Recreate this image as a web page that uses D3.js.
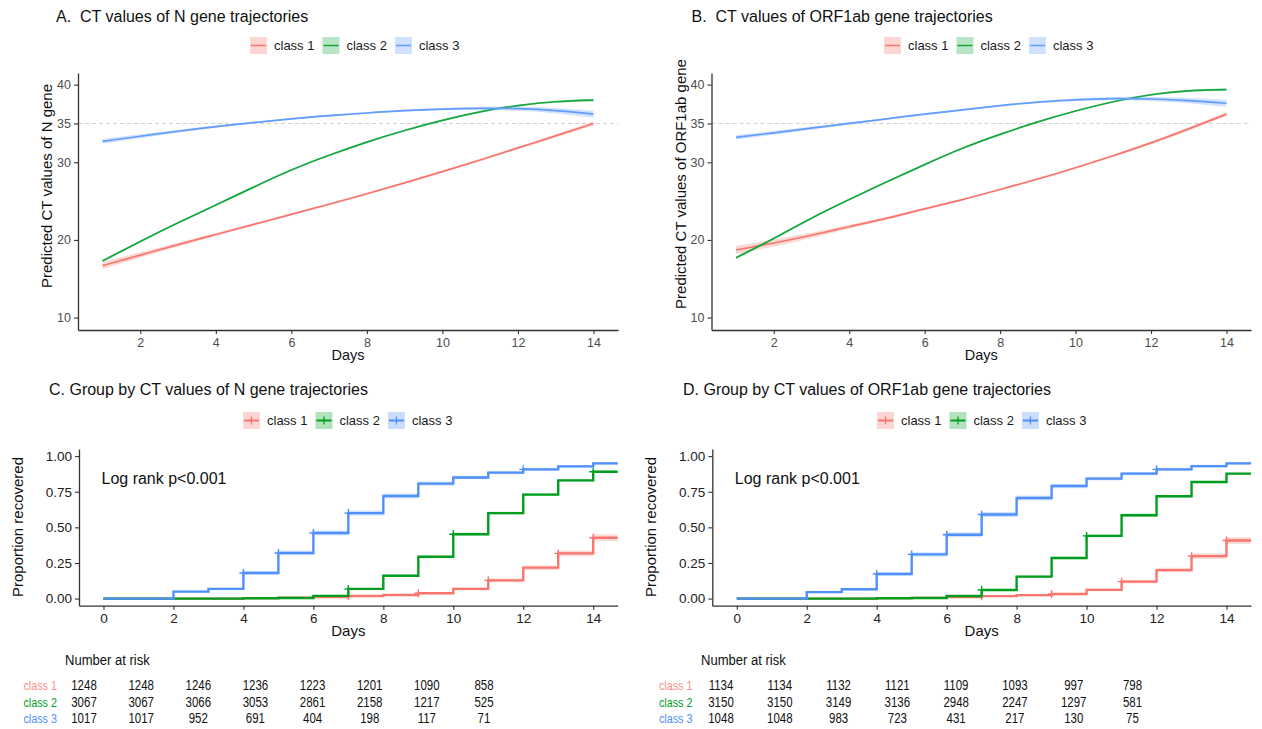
<!DOCTYPE html>
<html><head><meta charset="utf-8">
<script src="https://cdn.jsdelivr.net/npm/d3@7"></script>
<style>body{margin:0;background:#fff} svg text{font-family:"Liberation Sans",Arial,sans-serif}</style>
</head><body>
<svg id="c" width="1262" height="729"></svg>
<script>
// ---------- DATA ----------
const classNames = ["class 1", "class 2", "class 3"];
const trajDays = [1,2,3,4,5,6,7,8,9,10,11,12,13,14];
const yTicksTraj = [10,20,30,35,40];
const xTicksTraj = [2,4,6,8,10,12,14];
const refLine = 35;

// Panel A: N gene predicted CT
const nGene1 = [16.7,18.05,19.4,20.7,22.0,23.3,24.6,25.95,27.35,28.8,30.3,31.85,33.4,35.0];
const nGene2 = [17.3,19.8,22.2,24.5,26.8,29.0,30.9,32.6,34.1,35.4,36.5,37.3,37.8,38.0];
const nGene3 = [32.7,33.35,34.0,34.6,35.1,35.6,36.0,36.35,36.65,36.85,36.95,36.9,36.65,36.2];
const nGeneCI1 = [0.45,0.35,0.25,0.2,0.15,0.12,0.12,0.12,0.12,0.13,0.15,0.17,0.2,0.25];
const nGeneCI2 = [0.18,0.14,0.12,0.1,0.1,0.1,0.1,0.1,0.1,0.1,0.1,0.12,0.14,0.18];
const nGeneCI3 = [0.3,0.25,0.2,0.15,0.12,0.12,0.12,0.12,0.12,0.15,0.2,0.27,0.35,0.45];

// Panel B: ORF1ab gene predicted CT
const orf1 = [18.7,19.6,20.6,21.7,22.8,24.0,25.2,26.5,27.85,29.3,30.85,32.5,34.3,36.2];
const orf2 = [17.7,20.2,22.8,25.2,27.5,29.7,31.8,33.6,35.2,36.6,37.8,38.7,39.2,39.35];
const orf3 = [33.2,33.8,34.4,35.0,35.6,36.2,36.75,37.3,37.75,38.05,38.2,38.15,37.95,37.6];
const orfCI1 = [0.55,0.45,0.35,0.25,0.2,0.15,0.12,0.12,0.12,0.13,0.15,0.17,0.2,0.25];
const orfCI2 = [0.18,0.14,0.12,0.1,0.1,0.1,0.1,0.1,0.1,0.1,0.1,0.12,0.14,0.18];
const orfCI3 = [0.3,0.25,0.2,0.15,0.12,0.12,0.12,0.12,0.12,0.15,0.2,0.27,0.35,0.45];

// Kaplan-Meier (proportion recovered) at days 0..14
const kmTimes = [0,1,2,3,4,5,6,7,8,9,10,11,12,13,14];
const kmTicksX = [0,2,4,6,8,10,12,14];
const kmTicksY = [0,0.25,0.5,0.75,1];
const kmN1 = [0,0,0,0,0.003,0.006,0.01,0.018,0.025,0.037,0.068,0.128,0.217,0.317,0.427];
const kmN2 = [0,0,0,0,0.002,0.004,0.019,0.068,0.16,0.294,0.452,0.60,0.73,0.83,0.89];
const kmN3 = [0,0,0.049,0.068,0.18,0.32,0.46,0.60,0.72,0.807,0.85,0.884,0.907,0.928,0.949];
const kmNCI1 = [0,0,0,0,0.003,0.004,0.005,0.006,0.007,0.008,0.01,0.013,0.016,0.02,0.024];
const kmNCI2 = [0,0,0,0,0.002,0.002,0.004,0.006,0.008,0.009,0.01,0.01,0.009,0.008,0.007];
const kmNCI3 = [0,0,0.007,0.008,0.013,0.016,0.018,0.018,0.017,0.015,0.013,0.012,0.011,0.01,0.009];
const censN1 = [7,9,11,13,14];
const censN2 = [7,10,14];
const censN3 = [4,5,6,7,12];

const kmO1 = [0,0,0,0,0.003,0.005,0.01,0.017,0.024,0.032,0.061,0.119,0.20,0.298,0.408];
const kmO2 = [0,0,0,0,0.002,0.004,0.018,0.06,0.154,0.285,0.44,0.585,0.718,0.818,0.877];
const kmO3 = [0,0,0.045,0.065,0.173,0.31,0.448,0.59,0.706,0.79,0.842,0.877,0.907,0.93,0.949];
const kmOCI1 = [0,0,0,0,0.003,0.004,0.005,0.006,0.007,0.008,0.01,0.013,0.016,0.02,0.024];
const kmOCI2 = [0,0,0,0,0.002,0.002,0.004,0.006,0.008,0.009,0.01,0.01,0.009,0.008,0.007];
const kmOCI3 = [0,0,0.007,0.008,0.013,0.016,0.018,0.018,0.017,0.015,0.013,0.012,0.011,0.01,0.009];
const censO1 = [7,9,11,13,14];
const censO2 = [7,10];
const censO3 = [4,5,6,7,12];

// Numbers at risk
const riskTimes = [0,2,4,6,8,10,12,14];
const riskN1 = [1248,1248,1246,1236,1223,1201,1090,858];
const riskN2 = [3067,3067,3066,3053,2861,2158,1217,525];
const riskN3 = [1017,1017,952,691,404,198,117,71];
const riskO1 = [1134,1134,1132,1121,1109,1093,997,798];
const riskO2 = [3150,3150,3149,3136,2948,2247,1297,581];
const riskO3 = [1048,1048,983,723,431,217,130,75];

// ---------- STYLE ----------
const colTraj = ["#F8766D", "#14A83E", "#619CFF"];
const colKM = ["#F8766D", "#009E1F", "#4F90FA"];

const svg = d3.select("#c");

function legend(g, x0, yTop, cols, plus) {
  let x = x0;
  classNames.forEach((nm, i) => {
    g.append("rect").attr("x", x).attr("y", yTop).attr("width", 17).attr("height", 17)
      .attr("fill", cols[i]).attr("fill-opacity", 0.3);
    g.append("line").attr("x1", x + 1).attr("x2", x + 16).attr("y1", yTop + 8.5).attr("y2", yTop + 8.5)
      .attr("stroke", cols[i]).attr("stroke-width", plus ? 2 : 1.5);
    if (plus) g.append("line").attr("x1", x + 8.5).attr("x2", x + 8.5).attr("y1", yTop + 4.5).attr("y2", yTop + 12.5)
      .attr("stroke", cols[i]).attr("stroke-width", 1.3);
    const t = g.append("text").attr("x", x + 24).attr("y", yTop + 13).attr("font-size", 13).attr("fill", "#1a1a1a").text(nm);
    x = x + 24 + t.node().getComputedTextLength() + 8;
  });
}

function styleAxis(a, col, fs) {
  a.select(".domain").attr("stroke", "#333").attr("stroke-width", 1.3);
  a.selectAll(".tick line").attr("stroke", "#333").attr("stroke-width", 1.1);
  a.selectAll(".tick text").attr("fill", col).attr("font-size", fs)
    .attr("font-family", "Liberation Sans, Arial, sans-serif");
}

function drawTraj(o) {
  const g = svg.append("g");
  const x = d3.scaleLinear().domain([0.35, 14.65]).range([o.left, o.right]);
  const y = d3.scaleLinear().domain([8.4, 41.5]).range([330, 73]);
  g.append("line").attr("x1", o.left).attr("x2", o.right).attr("y1", y(refLine)).attr("y2", y(refLine))
    .attr("stroke", "#cfcfcf").attr("stroke-dasharray", "4,3").attr("stroke-width", 1);
  o.series.forEach((vals, i) => {
    const pts = trajDays.map((d, k) => ({d, v: vals[k], c: o.ci[i][k]}));
    g.append("path").datum(pts).attr("fill", colTraj[i]).attr("fill-opacity", 0.28)
      .attr("d", d3.area().curve(d3.curveNatural).x(p => x(p.d)).y0(p => y(p.v - p.c)).y1(p => y(p.v + p.c)));
    g.append("path").datum(pts).attr("fill", "none").attr("stroke", colTraj[i]).attr("stroke-width", 1.7)
      .attr("d", d3.line().curve(d3.curveNatural).x(p => x(p.d)).y(p => y(p.v)));
  });
  const ay = g.append("g").attr("transform", `translate(${o.left},0)`)
    .call(d3.axisLeft(y).tickValues(yTicksTraj).tickSize(4).tickSizeOuter(0).tickPadding(3));
  styleAxis(ay, "#4d4d4d", 12.5);
  const ax = g.append("g").attr("transform", `translate(0,330)`)
    .call(d3.axisBottom(x).tickValues(xTicksTraj).tickSize(4).tickSizeOuter(0).tickPadding(4));
  styleAxis(ax, "#4d4d4d", 12.5);
  g.append("text").attr("x", o.titleX).attr("y", 22).attr("font-size", 16).attr("fill", "#111").attr("xml:space","preserve").text(o.title);
  g.append("text").attr("x", (o.left + o.right) / 2).attr("y", 360).attr("text-anchor", "middle")
    .attr("font-size", 14.5).attr("fill", "#111").text("Days");
  g.append("text").attr("transform", `translate(${o.ytX},${o.ytY}) rotate(-90)`).attr("text-anchor", "middle")
    .attr("font-size", 15).attr("fill", "#111").text(o.ylab);
  legend(g, o.legX, 37, colTraj, false);
}

function plusPath(px, py) {
  return `M${px - 4},${py}H${px + 4}M${px},${py - 4}V${py + 4}`;
}

function drawKM(o) {
  const g = svg.append("g");
  const x = d3.scaleLinear().domain([-0.7, 14.7]).range([o.left, o.right]);
  const y = d3.scaleLinear().domain([-0.05, 1.05]).range([605.7, 449]);
  const tEnd = 14.7;
  o.series.forEach((vals, i) => {
    const pts = kmTimes.map((t, k) => ({t, v: vals[k], c: o.ci[i][k]}));
    pts.push({t: tEnd, v: vals[vals.length - 1], c: o.ci[i][vals.length - 1]});
    g.append("path").datum(pts).attr("fill", colKM[i]).attr("fill-opacity", 0.25)
      .attr("d", d3.area().curve(d3.curveStepAfter).x(p => x(p.t)).y0(p => y(p.v - p.c)).y1(p => y(p.v + p.c)));
  });
  o.series.forEach((vals, i) => {
    const pts = kmTimes.map((t, k) => ({t, v: vals[k]}));
    pts.push({t: tEnd, v: vals[vals.length - 1]});
    g.append("path").datum(pts).attr("fill", "none").attr("stroke", colKM[i]).attr("stroke-width", 2.4)
      .attr("d", d3.line().curve(d3.curveStepAfter).x(p => x(p.t)).y(p => y(p.v)));
    o.cens[i].forEach(t => {
      g.append("path").attr("d", plusPath(x(t), y(vals[kmTimes.indexOf(t)])))
        .attr("stroke", colKM[i]).attr("stroke-width", 1.4).attr("fill", "none");
    });
  });
  const ay = g.append("g").attr("transform", `translate(${o.left},0)`)
    .call(d3.axisLeft(y).tickValues(kmTicksY).tickFormat(d3.format(".2f")).tickSize(4).tickSizeOuter(0).tickPadding(3));
  styleAxis(ay, "#222", 13.5);
  const ax = g.append("g").attr("transform", `translate(0,605.7)`)
    .call(d3.axisBottom(x).tickValues(kmTicksX).tickSize(4).tickSizeOuter(0).tickPadding(4));
  styleAxis(ax, "#222", 13.5);
  g.append("text").attr("x", o.titleX).attr("y", 395).attr("font-size", 16).attr("fill", "#111").text(o.title);
  g.append("text").attr("x", x(7)).attr("y", 636).attr("text-anchor", "middle")
    .attr("font-size", 15).attr("fill", "#111").text("Days");
  g.append("text").attr("transform", `translate(${o.ytX},527) rotate(-90)`).attr("text-anchor", "middle")
    .attr("font-size", 15).attr("fill", "#111").text("Proportion recovered");
  g.append("text").attr("x", x(0) - 2).attr("y", 484).attr("font-size", 16).attr("fill", "#111").text("Log rank p<0.001");
  legend(g, o.legX, 412, colKM, true);

  // risk table
  const rx = d3.scaleLinear().domain([0, 14]).range(o.riskRange);
  g.append("text").attr("transform", `translate(${o.riskTitleX},665) scale(0.87,1)`)
    .attr("font-size", 15).attr("fill", "#111").text("Number at risk");
  const rowY = [690, 706.5, 722.5];
  o.risk.forEach((row, i) => {
    g.append("text").attr("transform", `translate(${o.riskLabelX},${rowY[i]}) scale(0.8,1)`)
      .attr("text-anchor", "end").attr("font-size", 13.5).attr("fill", colKM[i]).attr("fill-opacity", i === 0 ? 0.85 : 1)
      .text(classNames[i]);
    row.forEach((n, k) => {
      g.append("text").attr("transform", `translate(${rx(riskTimes[k])},${rowY[i]}) scale(0.82,1)`)
        .attr("text-anchor", "middle").attr("font-size", 14).attr("fill", "#111").text(n);
    });
  });
}

drawTraj({left: 78, right: 618, title: "A.  CT values of N gene trajectories", titleX: 56,
  ylab: "Predicted CT values of N gene", ytX: 52, ytY: 186, legX: 250,
  series: [nGene1, nGene2, nGene3], ci: [nGeneCI1, nGeneCI2, nGeneCI3]});
drawTraj({left: 711.5, right: 1251, title: "B.  CT values of ORF1ab gene trajectories", titleX: 691.5,
  ylab: "Predicted CT values of ORF1ab gene", ytX: 686, ytY: 184, legX: 884,
  series: [orf1, orf2, orf3], ci: [orfCI1, orfCI2, orfCI3]});
drawKM({left: 79, right: 617.7, title: "C. Group by CT values of N gene trajectories", titleX: 49,
  ytX: 23, legX: 243, series: [kmN1, kmN2, kmN3], ci: [kmNCI1, kmNCI2, kmNCI3], cens: [censN1, censN2, censN3],
  risk: [riskN1, riskN2, riskN3], riskRange: [84, 484], riskTitleX: 65, riskLabelX: 57});
drawKM({left: 712.3, right: 1251, title: "D. Group by CT values of ORF1ab gene trajectories", titleX: 683,
  ytX: 656, legX: 877, series: [kmO1, kmO2, kmO3], ci: [kmOCI1, kmOCI2, kmOCI3], cens: [censO1, censO2, censO3],
  risk: [riskO1, riskO2, riskO3], riskRange: [721, 1132.5], riskTitleX: 701, riskLabelX: 692.5});
</script>
</body></html>
